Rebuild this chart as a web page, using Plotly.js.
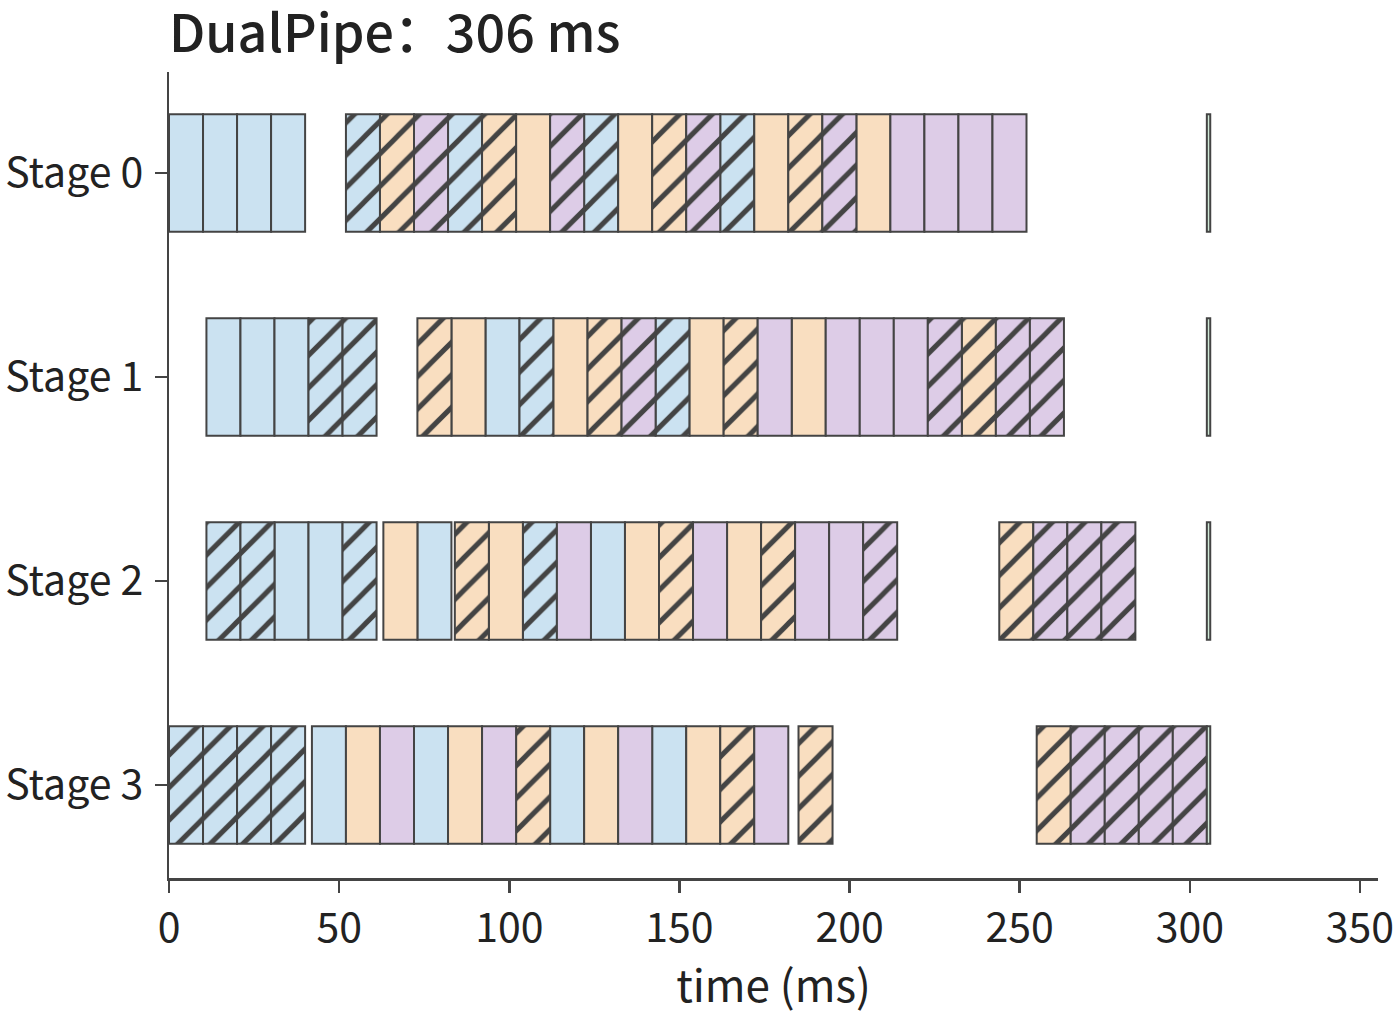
<!DOCTYPE html>
<html>
<head>
<meta charset="utf-8">
<script src="https://cdn.plot.ly/plotly-3.0.1.min.js"></script>
<style>
  html, body { margin: 0; padding: 0; background: #fff; }
  #chart { width: 1400px; height: 1015px; }
</style>
</head>
<body>
<div id="chart"></div>
<script>
// stage names shown on the y axis
var stageNames = ['Stage 0', 'Stage 1', 'Stage 2', 'Stage 3'];

// each block is a run of 10 ms chunks starting at the given time (ms)
// F = forward, B = backward, W = weight; lower case = other direction (hatched)
var stage0Starts = [0, 52];
var stage0Kinds  = ['FFFF', 'fbwfbBwfBbwfBbwBWWWW'];
var stage1Starts = [11, 73];
var stage1Kinds  = ['FFFff', 'bBFfBbwfBbWBWWWwbww'];
var stage2Starts = [11, 63, 84, 244];
var stage2Kinds  = ['ffFFf', 'BF', 'bBfWFBbWBbWWw', 'bwww'];
var stage3Starts = [0, 42, 185, 255];
var stage3Kinds  = ['ffff', 'FBWFBWbFBWFBbW', 'b', 'bwwww'];

var chunkMs = 10;
// optimizer step at the end on every stage
var stepStart = 305;
var stepMs = 1;

var allStarts = [stage0Starts, stage1Starts, stage2Starts, stage3Starts];
var allKinds = [stage0Kinds, stage1Kinds, stage2Kinds, stage3Kinds];

var kindStyle = {
  F: {color: '#cbe2f1', hatch: false},
  f: {color: '#cbe2f1', hatch: true},
  B: {color: '#f9dec0', hatch: false},
  b: {color: '#f9dec0', hatch: true},
  W: {color: '#ddcce7', hatch: false},
  w: {color: '#ddcce7', hatch: true}
};

var edge = '#444444';
var barWidth = 0.575;

var groups = {};
Object.keys(kindStyle).forEach(function (k) { groups[k] = {x: [], base: [], y: []}; });

for (var s = 0; s < allStarts.length; s++) {
  for (var b = 0; b < allStarts[s].length; b++) {
    var kinds = allKinds[s][b];
    for (var i = 0; i < kinds.length; i++) {
      var g = groups[kinds[i]];
      g.base.push(allStarts[s][b] + i * chunkMs);
      g.x.push(chunkMs);
      g.y.push(s);
    }
  }
}

var traces = Object.keys(kindStyle).map(function (k) {
  var st = kindStyle[k];
  var marker = {color: st.color, line: {color: edge, width: 2}};
  if (st.hatch) {
    marker.pattern = {shape: '/', fgcolor: edge, fgopacity: 1, fillmode: 'overlay', size: 23, solidity: 0.22};
  }
  return {
    type: 'bar', orientation: 'h',
    x: groups[k].x, base: groups[k].base, y: groups[k].y,
    width: barWidth, marker: marker, hoverinfo: 'skip', showlegend: false
  };
});

traces.push({
  type: 'bar', orientation: 'h',
  x: stageNames.map(function () { return stepMs; }),
  base: stageNames.map(function () { return stepStart; }),
  y: stageNames.map(function (n, i) { return i; }),
  width: barWidth,
  marker: {color: '#cfe8d6', line: {color: edge, width: 2}},
  hoverinfo: 'skip', showlegend: false
});

var fontFam = '"Noto Sans CJK SC", "Source Sans Pro", sans-serif';

var layout = {
  width: 1400, height: 1015,
  margin: {l: 169, r: 22, t: 72, b: 137},
  paper_bgcolor: '#fff', plot_bgcolor: '#fff',
  barmode: 'overlay',
  font: {family: fontFam, color: '#222', size: 41},
  title: {
    text: 'DualPipe：306 ms',
    font: {family: fontFam, size: 52, color: '#222', weight: 500},
    x: 0, xref: 'paper', xanchor: 'left',
    y: 1 - 34 / 1015, yref: 'container', yanchor: 'middle'
  },
  xaxis: {
    range: [0, 355.3],
    tickvals: [0, 50, 100, 150, 200, 250, 300, 350],
    showgrid: false, zeroline: false,
    showline: true, linecolor: edge, linewidth: 2.5,
    ticks: 'outside', ticklen: 12, tickwidth: 2.5, tickcolor: edge,
    tickfont: {size: 41},
    title: {text: 'time (ms)', font: {size: 44}, standoff: 5}
  },
  yaxis: {
    range: [3.456, -0.495],
    tickvals: [0, 1, 2, 3], ticktext: stageNames,
    showgrid: false, zeroline: false,
    showline: true, linecolor: edge, linewidth: 2.5,
    ticks: 'outside', ticklen: 12, tickwidth: 2.5, tickcolor: edge,
    ticklabelstandoff: 3,
    tickfont: {size: 41}
  }
};

Plotly.newPlot('chart', traces, layout, {displayModeBar: false, staticPlot: true});
</script>
</body>
</html>
